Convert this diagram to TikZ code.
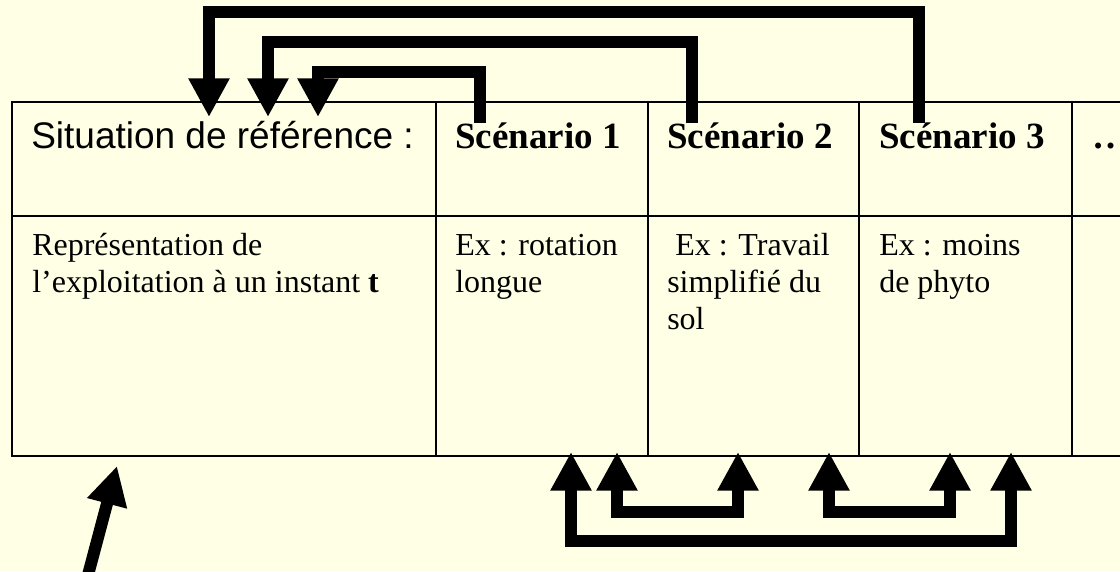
\documentclass[tikz,border=0pt]{standalone}
\usepackage{fontspec}
\setmainfont{Liberation Serif}
\newfontfamily\arialfont{Liberation Sans}
\usetikzlibrary{arrows.meta}
\definecolor{paper}{RGB}{255,255,230}

\begin{document}
\begin{tikzpicture}[
  x=0.75pt, y=-0.75pt,
  >={Triangle[width=29pt,length=29pt]},
  grid/.style={draw, line width=2pt},
  fat/.style={line width=9pt},
  reftext/.style={anchor=base west, inner sep=0pt, font=\arialfont\fontsize{27.75pt}{32pt}\selectfont},
  headtext/.style={anchor=base west, inner sep=0pt, font=\fontsize{27.75pt}{32pt}\selectfont\bfseries},
  bodytext/.style={anchor=base west, inner sep=0pt, align=left, font=\fontsize{24pt}{27.75pt}\selectfont}
]
\useasboundingbox (0,0) rectangle (1120,571);
\fill[paper] (0,0) rectangle (1120,571);
\clip (0,0) rectangle (1120,571);

% Table
\draw[grid] (12,102) rectangle (1160,456);
\draw[grid] (12,216) -- (1160,216);
\foreach \x in {436,648,859,1072} {
  \draw[grid] (\x,102) -- (\x,456);
}

% Header row
\node[reftext] (ref) at (31,148) {Situation de référence :};
\node[headtext] (sc1) at (455,148) {Scénario 1};
\node[headtext] (sc2) at (667,148) {Scénario 2};
\node[headtext] (sc3) at (879,148) {Scénario 3};
\node[headtext] (more) at (1092,148) {…};

% Body row (base = last line)
\node[bodytext] (refbody) at (32,292) {Représentation de\\l’exploitation à un instant \textbf{t}};
\node[bodytext] (ex1) at (455,292) {Ex : rotation\\longue};
\node[bodytext] (ex2) at (667,329) {\hspace*{6pt}Ex : Travail\\simplifié du\\sol};
\node[bodytext] (ex3) at (879,292) {Ex : moins\\de phyto};

% Arrow ends
\coordinate (s1) at (480,123);
\coordinate (s2) at (692,123);
\coordinate (s3) at (919,123);
\coordinate (r1) at (318,117);
\coordinate (r2) at (268,117);
\coordinate (r3) at (209,117);
\coordinate (b1) at (571,452);
\coordinate (b2) at (617,452);
\coordinate (b3) at (738,452);
\coordinate (b4) at (829,452);
\coordinate (b5) at (950,452);
\coordinate (b6) at (1011,452);
\coordinate (low) at (88,575);
\coordinate (t0) at (117,466);

% Scenarios back to the reference
\draw[fat, ->] (s1) -- ++(0,-51) -| (r1);
\draw[fat, ->] (s2) -- ++(0,-81) -| (r2);
\draw[fat, ->] (s3) -- ++(0,-111) -| (r3);

% Comparisons between scenarios
\draw[fat, <->] (b1) -- ++(0,89) -| (b6);
\draw[fat, <->] (b2) -- ++(0,60) -| (b3);
\draw[fat, <->] (b4) -- ++(0,60) -| (b5);

% Pointer to the reference
\draw[fat, ->] (low) -- (t0);

\end{tikzpicture}
\end{document}
